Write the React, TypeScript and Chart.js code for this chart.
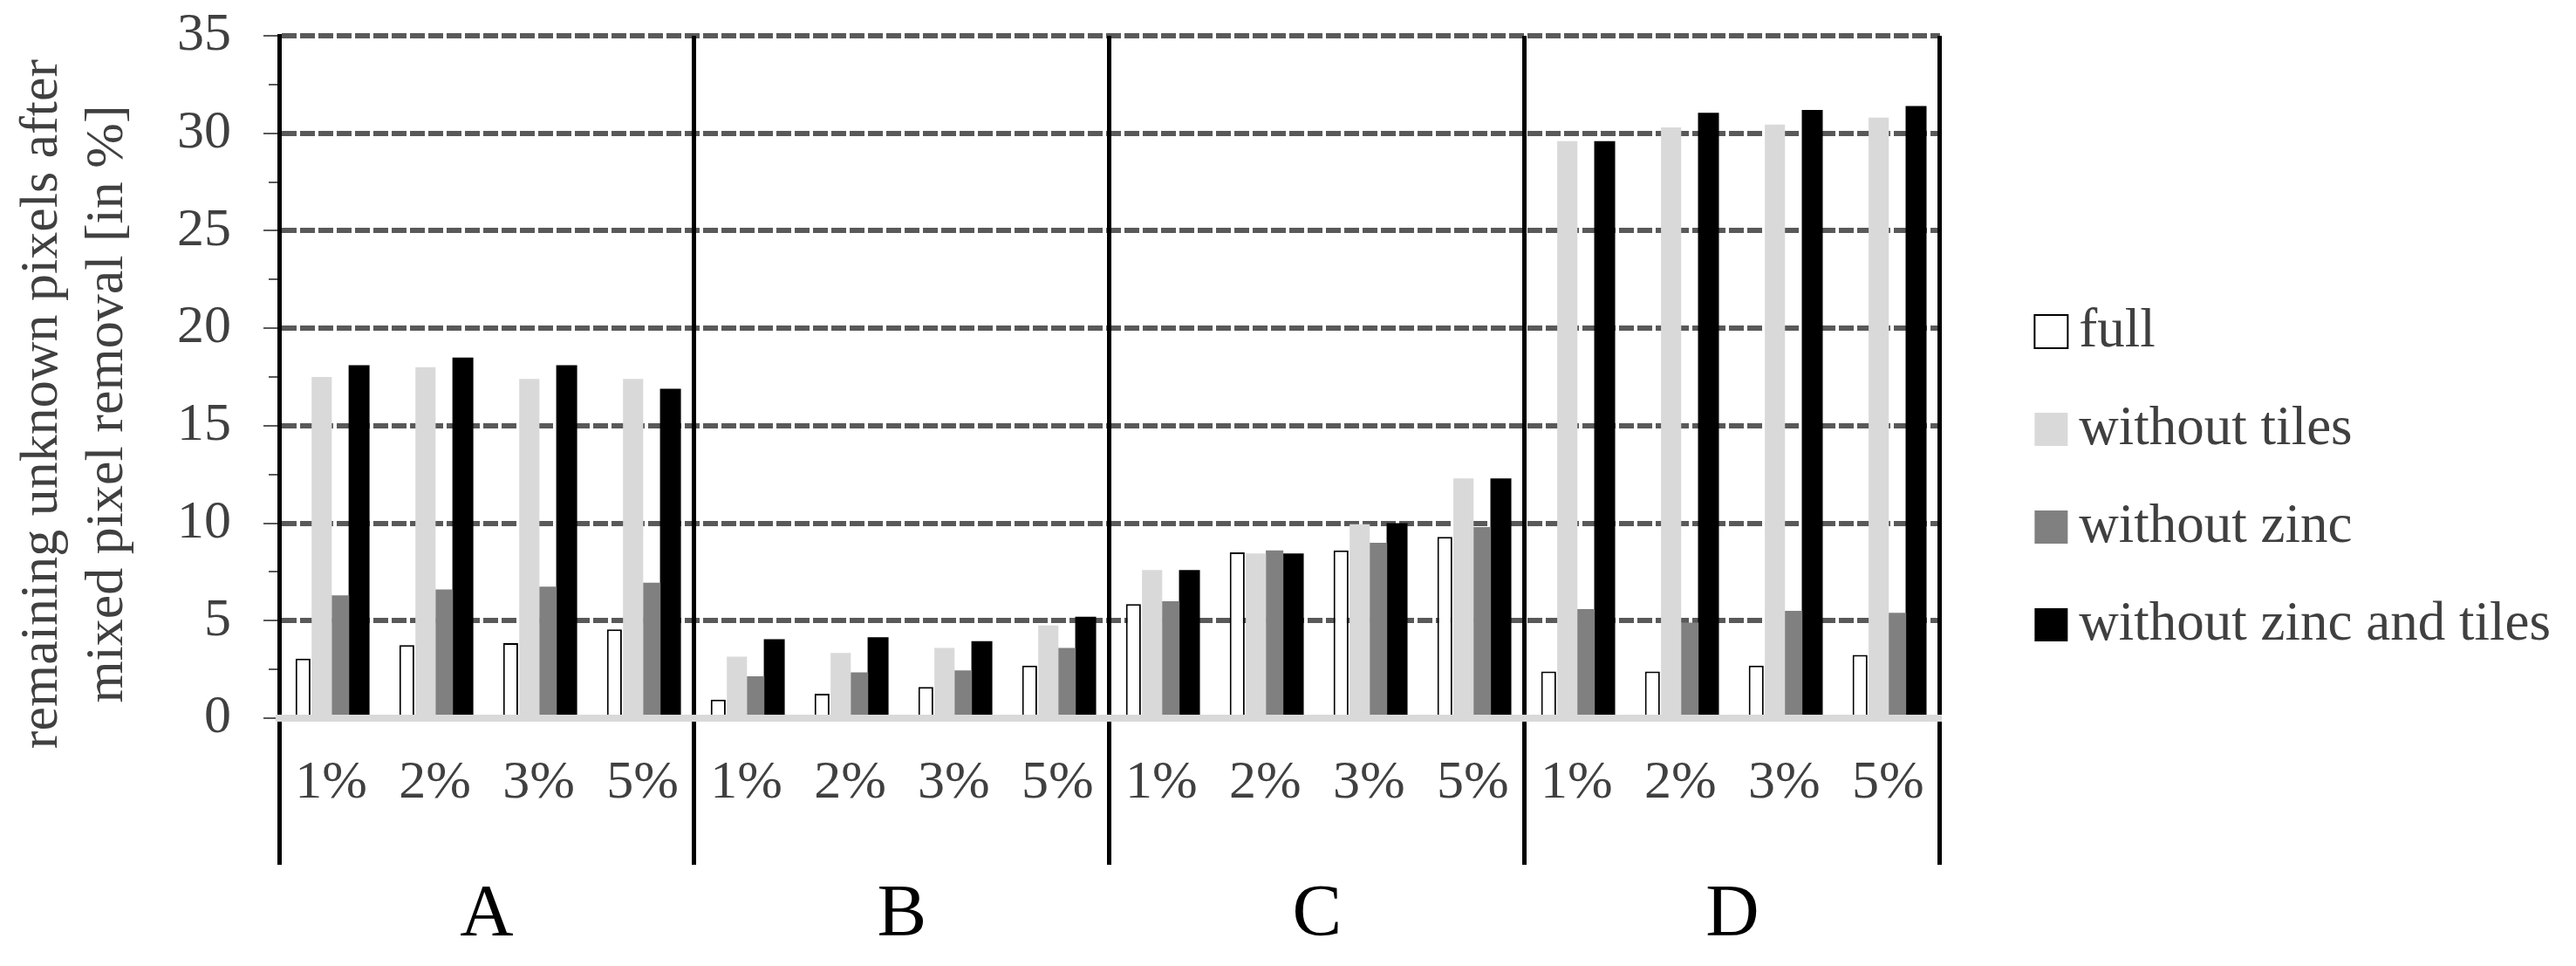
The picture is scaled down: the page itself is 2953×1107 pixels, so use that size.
import React, { useEffect, useRef } from 'react';
import { Chart, registerables } from 'chart.js';

Chart.register(...registerables);

// ---------- data ----------
const GROUPS = ['A', 'B', 'C', 'D'];
const THRESHOLDS = ['1%', '2%', '3%', '5%'];
const SERIES_NAMES = ['full', 'without tiles', 'without zinc', 'without zinc and tiles'];

// values per group A(1%,2%,3%,5%), B(...), C(...), D(...)
const FULL = [3.05, 3.75, 3.85, 4.55, 0.95, 1.25, 1.6, 2.7, 5.85, 8.5, 8.6, 9.3, 2.4, 2.4, 2.7, 3.25];
const WITHOUT_TILES = [17.5, 18.0, 17.4, 17.4, 3.15, 3.35, 3.6, 4.75, 7.6, 8.45, 9.95, 12.3, 29.6, 30.3, 30.45, 30.8];
const WITHOUT_ZINC = [6.3, 6.6, 6.75, 6.95, 2.15, 2.35, 2.45, 3.6, 6.0, 8.6, 9.0, 9.8, 5.6, 4.9, 5.5, 5.4];
const WITHOUT_ZINC_AND_TILES = [18.1, 18.5, 18.1, 16.9, 4.05, 4.15, 3.95, 5.2, 7.6, 8.45, 10.0, 12.3, 29.6, 31.05, 31.2, 31.4];

const Y_MIN = 0;
const Y_MAX = 35;
const Y_MINOR_STEP = 2.5;
const Y_LABEL_STEP = 5;
// trailing spaces nudge the rotated, centred title slightly downwards like the original
const Y_TITLE = ['remaining unknown pixels after    ', 'mixed pixel removal [in %]    '];

// ---------- styles ----------
const FONT = "'Liberation Serif', 'Times New Roman', serif";
const TEXT_GREY = '#404040';
const GRID_GREY = '#595959';
const FILLS = ['#ffffff', '#d9d9d9', '#808080', '#000000'];
const BAR_PCTS = [0.8, 1.08, 0.94, 1.12];

const CANVAS_W = 2937;
const CANVAS_H = 1091;

const legendNudge = {
  id: 'legendNudge',
  afterLayout(chart: any) {
    const lg = chart.legend;
    if (!lg) return;
    lg.left += 78;
    lg.right += 78;
    lg.top -= 22;
    lg.bottom -= 22;
  },
};

export default function App() {
  const ref = useRef<HTMLCanvasElement>(null);

  useEffect(() => {
    if (!ref.current) return;
    const categoryLabels = GROUPS.flatMap(() => THRESHOLDS);
    const seriesValues = [FULL, WITHOUT_TILES, WITHOUT_ZINC, WITHOUT_ZINC_AND_TILES];

    const datasets = SERIES_NAMES.map((name, i) => ({
      label: name,
      data: seriesValues[i],
      backgroundColor: FILLS[i],
      borderColor: '#000000',
      borderWidth: i === 0 ? 2 : 0,
      categoryPercentage: 0.72,
      barPercentage: BAR_PCTS[i],
    }));

    const chart = new Chart(ref.current, {
      type: 'bar',
      data: { labels: categoryLabels, datasets },
      plugins: [legendNudge],
      options: {
        animation: false,
        responsive: false,
        devicePixelRatio: 1,
        layout: { padding: { top: 33, right: 89, bottom: 0, left: 0 } },
        plugins: {
          tooltip: { enabled: false },
          legend: {
            position: 'right',
            align: 'center',
            labels: {
              usePointStyle: true,
              pointStyle: 'rect',
              boxWidth: 1,
              boxHeight: 38,
              padding: 49,
              color: TEXT_GREY,
              font: { family: FONT, size: 63 },
            },
          },
        },
        scales: {
          x: {
            type: 'category',
            position: 'bottom',
            weight: 0,
            offset: true,
            grid: {
              display: true,
              offset: true,
              drawOnChartArea: true,
              drawTicks: true,
              tickLength: 168,
              lineWidth: 5,
              color: (c: any) => (c.type === 'scale' || c.index % 4 === 0 ? '#000000' : 'rgba(0,0,0,0)'),
              z: 0,
            },
            border: { display: true, color: '#d9d9d9', width: 8, z: 1 },
            ticks: {
              autoSkip: false,
              maxRotation: 0,
              minRotation: 0,
              padding: -124,
              color: TEXT_GREY,
              font: { family: FONT, size: 62, lineHeight: 1 },
            },
            afterFit: (s: any) => {
              s.height = 110;
            },
          },
          x2: {
            type: 'category',
            position: 'bottom',
            weight: 1,
            labels: GROUPS,
            offset: true,
            grid: { display: false, drawTicks: false },
            border: { display: false },
            ticks: {
              autoSkip: false,
              maxRotation: 0,
              minRotation: 0,
              padding: 74,
              color: '#000000',
              font: { family: FONT, size: 85, lineHeight: 1 },
            },
            afterFit: (s: any) => {
              s.height = 166;
            },
          },
          y: {
            type: 'linear',
            position: 'left',
            min: Y_MIN,
            max: Y_MAX,
            ticks: {
              stepSize: Y_MINOR_STEP,
              autoSkip: false,
              padding: 0,
              color: TEXT_GREY,
              font: { family: FONT, size: 62, lineHeight: 1 },
              callback: (v: any) => (Number(v) % Y_LABEL_STEP === 0 ? String(v) : ''),
            },
            grid: {
              display: true,
              drawOnChartArea: true,
              drawTicks: true,
              tickLength: 55,
              lineWidth: 6,
              color: (c: any) =>
                c.tick && c.tick.value % Y_LABEL_STEP === 0 && c.tick.value !== 0 ? GRID_GREY : 'rgba(0,0,0,0)',
              tickColor: GRID_GREY,
              tickWidth: 2,
              tickBorderDash: (c: any) =>
                c.tick && c.tick.value % Y_LABEL_STEP !== 0 ? [0, 43, 200] : [0, 37, 200],
            },
            border: { display: true, color: '#000000', width: 5, dash: [17, 4] },
            title: {
              display: true,
              text: Y_TITLE,
              color: TEXT_GREY,
              font: { family: FONT, size: 62, lineHeight: 1.2 },
              padding: { top: 4, bottom: 5 },
            },
            afterFit: (s: any) => {
              s.width = 312;
            },
          },
        },
      } as any,
    });
    return () => chart.destroy();
  }, []);

  return <canvas ref={ref} width={CANVAS_W} height={CANVAS_H} style={{ display: 'block' }} />;
}
